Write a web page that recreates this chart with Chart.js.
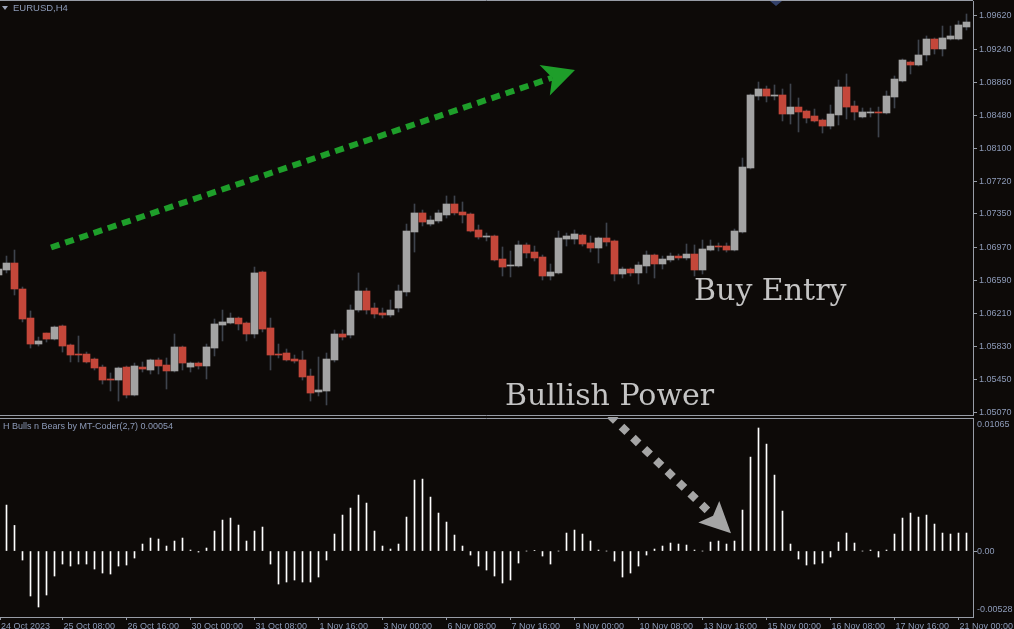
<!DOCTYPE html>
<html>
<head>
<meta charset="utf-8">
<script src="https://cdn.jsdelivr.net/npm/chart.js@4.4.1/dist/chart.umd.min.js"></script>
<style>
  html, body { margin: 0; padding: 0; background: #0d0a08; }
  #wrap { position: relative; width: 1014px; height: 629px; overflow: hidden; background: #0d0a08; }
  canvas { position: absolute; left: 0; }
  #price { top: 0; }
  #ind { top: 417px; }
</style>
</head>
<body>
<div id="wrap">
  <canvas id="price" width="1014" height="417"></canvas>
  <canvas id="ind" width="1014" height="212"></canvas>
</div>
<script>
// EURUSD H4 candles, first entry is the half-hidden bar at the left edge
const open = [1.06650, 1.06707, 1.06787, 1.06489, 1.06156, 1.05858, 1.05984, 1.05915, 1.06065, 1.05847,
  1.05743, 1.05743, 1.05686, 1.05594, 1.05457, 1.05445, 1.05594, 1.05273, 1.05594, 1.05560,
  1.05675, 1.05617, 1.05549, 1.05824, 1.05594, 1.05640, 1.05606, 1.05812, 1.06076, 1.06099,
  1.06156, 1.06099, 1.05973, 1.06684, 1.06042, 1.05743, 1.05755, 1.05686, 1.05675, 1.05491,
  1.05308, 1.05319, 1.05675, 1.05973, 1.05961, 1.06248, 1.06466, 1.06271, 1.06214, 1.06191,
  1.06271, 1.06455, 1.07143, 1.07361, 1.07234, 1.07269, 1.07338, 1.07464, 1.07372, 1.07349,
  1.07166, 1.07085, 1.07097, 1.06833, 1.06753, 1.06753, 1.06994, 1.06913, 1.06856, 1.06638,
  1.06673, 1.07062, 1.07062, 1.07108, 1.07017, 1.06959, 1.07074, 1.07040, 1.06661, 1.06718,
  1.06673, 1.06753, 1.06879, 1.06776, 1.06822, 1.06867, 1.06845, 1.06890, 1.06707, 1.06936,
  1.06982, 1.06982, 1.06936, 1.07143, 1.07877, 1.08702, 1.08783, 1.08702, 1.08714, 1.08496,
  1.08576, 1.08530, 1.08473, 1.08427, 1.08358, 1.08485, 1.08806, 1.08588, 1.08462, 1.08508,
  1.08519, 1.08508, 1.08691, 1.08875, 1.09092, 1.09058, 1.09173, 1.09356, 1.09242, 1.09356,
  1.09356, 1.09494];
const high = [1.06776, 1.06867, 1.06936, 1.06512, 1.06237, 1.05938, 1.05984, 1.06065, 1.06076, 1.05858,
  1.05950, 1.05766, 1.05698, 1.05617, 1.05526, 1.05594, 1.05606, 1.05640, 1.05652, 1.05686,
  1.05698, 1.05698, 1.05973, 1.05835, 1.05652, 1.05652, 1.05858, 1.06145, 1.06248, 1.06214,
  1.06168, 1.06111, 1.06741, 1.06695, 1.06156, 1.05858, 1.05801, 1.05732, 1.05778, 1.05571,
  1.05709, 1.05755, 1.06019, 1.06019, 1.06306, 1.06673, 1.06500, 1.06328, 1.06271, 1.06363,
  1.06535, 1.07234, 1.07464, 1.07395, 1.07326, 1.07395, 1.07556, 1.07556, 1.07487, 1.07361,
  1.07223, 1.07131, 1.07108, 1.06971, 1.06925, 1.07040, 1.07017, 1.06982, 1.06879, 1.06776,
  1.07154, 1.07131, 1.07166, 1.07120, 1.07097, 1.07085, 1.07246, 1.07051, 1.06741, 1.06730,
  1.06799, 1.06925, 1.06890, 1.06867, 1.06902, 1.06890, 1.07005, 1.06994, 1.07051, 1.07051,
  1.07017, 1.07017, 1.07177, 1.07991, 1.08725, 1.08863, 1.08817, 1.08829, 1.08783, 1.08840,
  1.08680, 1.08542, 1.08553, 1.08439, 1.08599, 1.08886, 1.08955, 1.08645, 1.08565, 1.08565,
  1.08576, 1.08760, 1.08932, 1.09127, 1.09104, 1.09345, 1.09391, 1.09368, 1.09505, 1.09505,
  1.09563, 1.09643];
const low = [1.06615, 1.06673, 1.06420, 1.06111, 1.05812, 1.05835, 1.05881, 1.05904, 1.05766, 1.05652,
  1.05652, 1.05640, 1.05560, 1.05399, 1.05319, 1.05204, 1.05239, 1.05262, 1.05537, 1.05514,
  1.05514, 1.05342, 1.05537, 1.05560, 1.05537, 1.05571, 1.05457, 1.05721, 1.05893, 1.06088,
  1.06019, 1.05893, 1.05927, 1.05996, 1.05560, 1.05698, 1.05663, 1.05640, 1.05445, 1.05204,
  1.05262, 1.05159, 1.05652, 1.05904, 1.05927, 1.06225, 1.06202, 1.06156, 1.06156, 1.06168,
  1.06225, 1.06409, 1.06913, 1.07212, 1.07212, 1.07246, 1.07303, 1.07338, 1.07246, 1.07143,
  1.07062, 1.07040, 1.06810, 1.06638, 1.06627, 1.06741, 1.06845, 1.06810, 1.06592, 1.06592,
  1.06661, 1.06982, 1.07005, 1.06982, 1.06913, 1.06787, 1.06982, 1.06581, 1.06615, 1.06638,
  1.06546, 1.06673, 1.06615, 1.06718, 1.06799, 1.06822, 1.06822, 1.06638, 1.06661, 1.06925,
  1.06925, 1.06913, 1.06925, 1.07131, 1.07865, 1.08657, 1.08634, 1.08657, 1.08416, 1.08381,
  1.08290, 1.08393, 1.08404, 1.08278, 1.08324, 1.08370, 1.08439, 1.08427, 1.08450, 1.08462,
  1.08232, 1.08496, 1.08565, 1.08863, 1.08955, 1.09047, 1.09104, 1.09184, 1.09161, 1.09345,
  1.09345, 1.09459];
const close = [1.06718, 1.06787, 1.06489, 1.06145, 1.05858, 1.05893, 1.05915, 1.06053, 1.05835, 1.05732,
  1.05732, 1.05652, 1.05583, 1.05445, 1.05445, 1.05583, 1.05273, 1.05606, 1.05571, 1.05675,
  1.05606, 1.05549, 1.05824, 1.05640, 1.05640, 1.05606, 1.05824, 1.06088, 1.06111, 1.06156,
  1.06088, 1.05973, 1.06673, 1.06030, 1.05732, 1.05732, 1.05675, 1.05663, 1.05480, 1.05296,
  1.05331, 1.05686, 1.05973, 1.05938, 1.06248, 1.06466, 1.06248, 1.06202, 1.06191, 1.06248,
  1.06466, 1.07154, 1.07361, 1.07257, 1.07280, 1.07361, 1.07464, 1.07361, 1.07338, 1.07154,
  1.07085, 1.07097, 1.06822, 1.06741, 1.06764, 1.06994, 1.06902, 1.06845, 1.06638, 1.06684,
  1.07074, 1.07097, 1.07120, 1.07005, 1.06959, 1.07074, 1.07028, 1.06661, 1.06718, 1.06673,
  1.06764, 1.06879, 1.06776, 1.06833, 1.06867, 1.06845, 1.06890, 1.06707, 1.06948, 1.06982,
  1.06971, 1.06936, 1.07154, 1.07888, 1.08714, 1.08783, 1.08702, 1.08714, 1.08496, 1.08576,
  1.08519, 1.08450, 1.08416, 1.08358, 1.08496, 1.08806, 1.08576, 1.08519, 1.08519, 1.08519,
  1.08508, 1.08702, 1.08897, 1.09115, 1.09058, 1.09173, 1.09356, 1.09242, 1.09368, 1.09391,
  1.09517, 1.09551];

// H Bulls n Bears (2,7) histogram, same bars
const bullsBears = [0, 0.00368, 0.00205, -0.00072, -0.00360, -0.00448, -0.00352, -0.00200, -0.00104, -0.00120,
  -0.00104, -0.00104, -0.00144, -0.00176, -0.00184, -0.00120, -0.00112, -0.00056, 0.00056, 0.00104,
  0.00096, 0.00040, 0.00080, 0.00104, 0.00008, -0.00008, 0.00024, 0.00160, 0.00248, 0.00264,
  0.00208, 0.00080, 0.00160, 0.00192, -0.00104, -0.00264, -0.00248, -0.00232, -0.00248, -0.00248,
  -0.00208, -0.00072, 0.00136, 0.00288, 0.00344, 0.00448, 0.00384, 0.00160, 0.00040, 0.00016,
  0.00056, 0.00272, 0.00568, 0.00576, 0.00432, 0.00304, 0.00232, 0.00128, 0.00040, -0.00032,
  -0.00120, -0.00152, -0.00200, -0.00256, -0.00232, -0.00096, 0, 0.00005, -0.00040, -0.00104,
  0, 0.00144, 0.00168, 0.00136, 0.00080, 0.00008, 0, -0.00080, -0.00208, -0.00176,
  -0.00120, -0.00032, 0.00016, 0.00040, 0.00064, 0.00056, 0.00048, 0.00008, 0, 0.00072,
  0.00080, 0.00056, 0.00080, 0.00328, 0.00752, 0.00985, 0.00856, 0.00608, 0.00320, 0.00056,
  -0.00064, -0.00112, -0.00104, -0.00096, -0.00048, 0.00072, 0.00144, 0.00064, 0, 0.00008,
  -0.00048, 0.00008, 0.00136, 0.00264, 0.00304, 0.00272, 0.00288, 0.00216, 0.00144, 0.00136,
  0.00144, 0.00144];

const priceTicks = [1.09620, 1.09240, 1.08860, 1.08480, 1.08100, 1.07720, 1.07350,
  1.06970, 1.06590, 1.06210, 1.05830, 1.05450, 1.05070];
const timeTickIndex = [-1, 7, 15, 23, 31, 39, 47, 55, 63, 71, 79, 87, 95, 103, 111, 119];
const timeTickLabels = ['24 Oct 2023', '25 Oct 08:00', '26 Oct 16:00', '30 Oct 00:00', '31 Oct 08:00',
  '1 Nov 16:00', '3 Nov 00:00', '6 Nov 08:00', '7 Nov 16:00', '9 Nov 00:00', '10 Nov 08:00',
  '13 Nov 16:00', '15 Nov 00:00', '16 Nov 08:00', '17 Nov 16:00', '21 Nov 00:00'];

const priceMin = 1.05044, priceMax = 1.09792;
const indMin = -0.00528, indMax = 0.01065;
const xMin = -0.8125, xMax = 120.8125;

// annotations, anchored in [bar, value]
const trendArrow = { from: [5.5625, 1.06965], to: [71.06, 1.09001] };
const powerArrow = { from: [75.44, 0.01086], to: [90.56, 0.00142] };
const notes = [
  { text: 'Buy Entry', at: [85.94, 1.06363] },
  { text: 'Bullish Power', at: [62.31, 1.05159] }
];

const bg = '#0d0a08';
const axisColor = '#979ca6';
const textColor = '#8d9bb8';
const bullColor = '#a3a3a3';
const bearColor = '#c4473a';
const wickColor = '#3e434c';
const font9 = { family: 'Liberation Sans', size: 9 };

const barX = open.map((_, k) => k - 1);
const bodies = barX.map((x, k) => ({ x, y: [open[k], close[k]] }));
const wicks = barX.map((x, k) => ({ x, y: [low[k], high[k]] }));
const bodyColors = barX.map((_, k) => close[k] >= open[k] ? bullColor : bearColor);
const histo = barX.map((x, k) => ({ x, y: bullsBears[k] }));

// stop chart.js from insetting the plot area for edge labels
function noPad(s) {
  s.paddingTop = 0; s.paddingBottom = 0; s.paddingLeft = 0; s.paddingRight = 0;
}

function drawArrow(ctx, x1, y1, x2, y2, o) {
  const len = Math.hypot(x2 - x1, y2 - y1);
  const ux = (x2 - x1) / len, uy = (y2 - y1) / len;
  const px = -uy, py = ux;
  const bx = x2 - ux * o.head, by = y2 - uy * o.head;
  const nx = x2 - ux * (o.head - o.notch), ny = y2 - uy * (o.head - o.notch);
  ctx.save();
  ctx.strokeStyle = o.color;
  ctx.lineWidth = o.width;
  ctx.lineCap = 'butt';
  ctx.setLineDash(o.dash);
  ctx.beginPath();
  ctx.moveTo(x1, y1);
  ctx.lineTo(nx, ny);
  ctx.stroke();
  ctx.setLineDash([]);
  ctx.fillStyle = o.color;
  ctx.beginPath();
  ctx.moveTo(x2, y2);
  ctx.lineTo(bx + px * o.half, by + py * o.half);
  ctx.lineTo(nx, ny);
  ctx.lineTo(bx - px * o.half, by - py * o.half);
  ctx.closePath();
  ctx.fill();
  ctx.restore();
}

const pricePanel = {
  id: 'pricePanel',
  beforeDraw(chart) {
    const ctx = chart.ctx;
    ctx.save();
    ctx.fillStyle = bg;
    ctx.fillRect(0, 0, chart.width, chart.height);
    ctx.restore();
  },
  afterDatasetsDraw(chart) {
    const ctx = chart.ctx, xs = chart.scales.x, ys = chart.scales.y;
    drawArrow(ctx,
      xs.getPixelForValue(trendArrow.from[0]), ys.getPixelForValue(trendArrow.from[1]),
      xs.getPixelForValue(trendArrow.to[0]), ys.getPixelForValue(trendArrow.to[1]),
      { color: '#1e9e2a', width: 6, dash: [9, 6], head: 32, half: 16, notch: 8 });
    ctx.save();
    ctx.fillStyle = '#c4c4c4';
    ctx.font = '30px "DejaVu Serif"';
    ctx.textBaseline = 'alphabetic';
    notes.forEach(n => ctx.fillText(n.text, xs.getPixelForValue(n.at[0]), ys.getPixelForValue(n.at[1])));
    ctx.restore();
  },
  afterDraw(chart) {
    const ctx = chart.ctx, a = chart.chartArea;
    ctx.save();
    ctx.strokeStyle = axisColor;
    ctx.lineWidth = 1;
    ctx.beginPath();
    ctx.moveTo(0, 0.5); ctx.lineTo(a.right, 0.5);
    ctx.moveTo(0, a.bottom + 0.5); ctx.lineTo(a.right, a.bottom + 0.5);
    ctx.stroke();
    ctx.fillStyle = '#9aa3b8';
    ctx.beginPath();
    ctx.moveTo(2, 6); ctx.lineTo(8, 6); ctx.lineTo(5, 10);
    ctx.closePath(); ctx.fill();
    ctx.fillStyle = '#34426b';
    ctx.beginPath();
    ctx.moveTo(770, 1); ctx.lineTo(782, 1); ctx.lineTo(776, 6);
    ctx.closePath(); ctx.fill();
    ctx.fillStyle = textColor;
    ctx.font = '9.5px "Liberation Sans"';
    ctx.textBaseline = 'middle';
    ctx.fillText('EURUSD,H4', 13, 8.5);
    ctx.restore();
  }
};

const indPanel = {
  id: 'indPanel',
  beforeDraw(chart) {
    const ctx = chart.ctx;
    ctx.save();
    ctx.fillStyle = bg;
    ctx.fillRect(0, 0, chart.width, chart.height);
    ctx.restore();
  },
  afterDatasetsDraw(chart) {
    const ctx = chart.ctx, xs = chart.scales.x, ys = chart.scales.y;
    drawArrow(ctx,
      xs.getPixelForValue(powerArrow.from[0]), ys.getPixelForValue(powerArrow.from[1]),
      xs.getPixelForValue(powerArrow.to[0]), ys.getPixelForValue(powerArrow.to[1]),
      { color: '#a5a5a5', width: 8, dash: [8, 8], head: 31, half: 15, notch: 6 });
  },
  afterDraw(chart) {
    const ctx = chart.ctx, a = chart.chartArea, ys = chart.scales.y;
    ctx.save();
    ctx.strokeStyle = axisColor;
    ctx.lineWidth = 1;
    ctx.beginPath();
    ctx.moveTo(0, a.top + 0.5); ctx.lineTo(a.right, a.top + 0.5);
    ctx.stroke();
    ctx.fillStyle = textColor;
    ctx.font = '9px "Liberation Sans"';
    ctx.textBaseline = 'middle';
    ctx.fillText('H Bulls n Bears by MT-Coder(2,7) 0.00054', 3, 9.7);
    ctx.fillText(indMax.toFixed(5), a.right + 4, ys.getPixelForValue(indMax) + 6.7);
    ctx.fillText(indMin.toFixed(5), a.right + 4, ys.getPixelForValue(indMin) - 7);
    ctx.restore();
  }
};

new Chart(document.getElementById('price'), {
  type: 'bar',
  data: {
    datasets: [
      { label: 'body', data: bodies, backgroundColor: bodyColors, barThickness: 7, minBarLength: 1, grouped: false, order: 0 },
      { label: 'wick', data: wicks, backgroundColor: wickColor, barThickness: 1, grouped: false, order: 1 }
    ]
  },
  options: {
    responsive: false,
    animation: false,
    events: [],
    layout: { padding: { top: 1, bottom: 2, left: 0, right: 0 } },
    plugins: { legend: { display: false }, tooltip: { enabled: false } },
    scales: {
      x: { type: 'linear', min: xMin, max: xMax, offset: false, display: false },
      y: {
        position: 'right',
        min: priceMin,
        max: priceMax,
        afterFit: s => { s.width = 41; noPad(s); },
        afterBuildTicks: s => { s.ticks = priceTicks.map(v => ({ value: v })); },
        ticks: { callback: v => v.toFixed(5), color: textColor, font: font9, padding: 2, autoSkip: false },
        grid: { drawOnChartArea: false, drawTicks: true, tickLength: 4, color: axisColor },
        border: { display: true, color: axisColor }
      }
    }
  },
  plugins: [pricePanel]
});

new Chart(document.getElementById('ind'), {
  type: 'bar',
  data: {
    datasets: [
      { label: 'H Bulls n Bears', data: histo, backgroundColor: '#ffffff', barThickness: 1, grouped: false }
    ]
  },
  options: {
    responsive: false,
    animation: false,
    events: [],
    layout: { padding: { top: 1, bottom: 0, left: 0, right: 0 } },
    plugins: { legend: { display: false }, tooltip: { enabled: false } },
    scales: {
      x: {
        type: 'linear', min: xMin, max: xMax, offset: false,
        afterFit: s => { s.height = 12; noPad(s); },
        afterBuildTicks: s => { s.ticks = timeTickIndex.map(v => ({ value: Math.max(v, xMin) })); },
        ticks: {
          callback: (v, k) => timeTickLabels[k], align: 'start', labelOffset: 1, padding: 1,
          maxRotation: 0, minRotation: 0, autoSkip: false, color: textColor, font: font9
        },
        grid: { drawOnChartArea: false, drawTicks: true, tickLength: 3, color: axisColor, offset: false },
        border: { display: true, color: axisColor }
      },
      y: {
        position: 'right',
        min: indMin,
        max: indMax,
        afterFit: s => { s.width = 41; noPad(s); },
        afterBuildTicks: s => { s.ticks = [{ value: 0 }]; },
        ticks: { callback: v => v.toFixed(2), color: textColor, font: font9, padding: 0, autoSkip: false },
        grid: { drawOnChartArea: false, drawTicks: true, tickLength: 4, color: axisColor },
        border: { display: true, color: axisColor }
      }
    }
  },
  plugins: [indPanel]
});
</script>
</body>
</html>
